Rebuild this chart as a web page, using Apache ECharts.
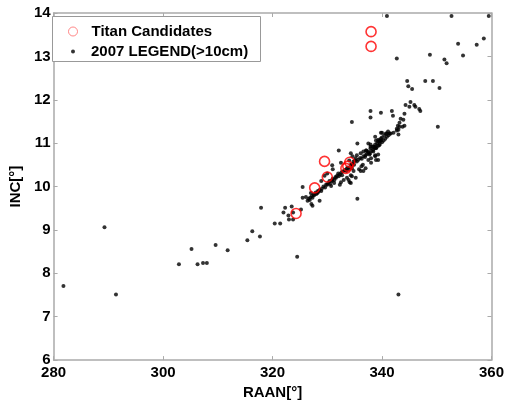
<!DOCTYPE html>
<html><head><meta charset="utf-8">
<script src="https://cdn.jsdelivr.net/npm/echarts@6/dist/echarts.min.js"></script>
<style>html,body{margin:0;padding:0;background:#fff}#c{width:507px;height:405px}</style>
</head><body><div id="c"></div>
<script>
const xTicks = [280, 300, 320, 340, 360];
const yTicks = [6, 7, 8, 9, 10, 11, 12, 13, 14];
const seriesNames = ['Titan Candidates', '2007 LEGEND(>10cm)'];

const titan = [
  [338.0, 13.57], [338.0, 13.23], [329.5, 10.58], [330.0, 10.22], [327.7, 9.97],
  [324.3, 9.38], [333.4, 10.42], [334.1, 10.56], [333.75, 10.47]
];

const debris = [
  [281.8, 7.71], [289.3, 9.06], [291.4, 7.51], [302.9, 8.21], [305.2, 8.56], [306.3, 8.21],
  [307.3, 8.24], [308.0, 8.24], [309.6, 8.65], [311.8, 8.53], [315.4, 8.76], [316.3, 8.97],
  [317.7, 8.85], [317.9, 9.51], [320.4, 9.15], [321.4, 9.15], [322.0, 9.40], [322.3, 9.51],
  [322.9, 9.33], [323.0, 9.24], [323.5, 9.54], [323.75, 9.40], [323.75, 9.24], [325.2, 9.47],
  [324.5, 8.38], [343.0, 7.51],
  [325.5, 9.99], [325.5, 9.74], [326.1, 9.76], [326.4, 9.67], [326.8, 9.69], [327.1, 9.60],
  [327.3, 9.56], [327.0, 9.85], [327.3, 9.74], [327.5, 9.81], [328.0, 9.83], [328.2, 9.85],
  [328.4, 9.88], [328.6, 9.67], [328.9, 9.90], [328.9, 10.13], [330.0, 10.04], [330.7, 10.01],
  [330.4, 10.13], [330.9, 10.15], [331.25, 10.08], [331.6, 10.20], [332.1, 10.24], [332.7, 10.26],
  [332.3, 10.04], [332.5, 10.10], [330.9, 10.49], [332.1, 10.83], [333.9, 10.15], [334.1, 10.10],
  [335.5, 9.72],
  [334.5, 10.49], [334.8, 10.58], [335.2, 10.65], [335.4, 10.72], [336.1, 10.77], [336.6, 10.81],
  [337.1, 10.83], [337.9, 10.88], [338.4, 10.92], [338.75, 10.97], [339.3, 11.04], [339.6, 11.06],
  [339.8, 11.11], [340.4, 11.18], [340.7, 11.22], [341.1, 11.27], [341.6, 11.22], [342.1, 11.24],
  [335.5, 10.99], [337.5, 10.99], [337.9, 10.92], [336.25, 10.47], [337.0, 10.42], [336.1, 10.36],
  [336.6, 10.36], [337.5, 10.61], [338.0, 10.65], [338.75, 10.70], [339.3, 10.74], [338.9, 10.61],
  [337.5, 10.81], [334.5, 10.42], [334.8, 10.36], [334.3, 10.26], [334.5, 11.49], [334.3, 10.77],
  [334.6, 10.70], [333.6, 10.42], [334.5, 10.24], [335.2, 10.20], [334.3, 10.08],
  [337.1, 10.83], [337.0, 10.72], [337.7, 10.74], [338.4, 10.81], [338.75, 10.72], [338.9, 10.88],
  [337.9, 11.59], [337.9, 11.74], [339.8, 11.70], [341.8, 11.74], [342.0, 11.63], [344.1, 11.68],
  [344.3, 11.88], [345.2, 11.95], [345.0, 11.84], [345.9, 11.88], [346.1, 11.84], [346.8, 11.79],
  [347.0, 11.74], [343.9, 11.54], [343.4, 11.56], [343.2, 11.47], [342.9, 11.40], [342.7, 11.33],
  [342.7, 11.29], [343.0, 11.31], [343.2, 11.38], [344.1, 11.40], [343.75, 11.38], [343.0, 11.20],
  [339.8, 11.24], [340.9, 11.22], [341.4, 11.22], [340.0, 11.13], [339.8, 11.06], [339.6, 11.04],
  [339.3, 11.08], [338.75, 11.15], [338.9, 11.06], [339.1, 10.99], [338.75, 10.92], [338.4, 10.92],
  [337.9, 10.97], [340.0, 11.24], [339.5, 10.95], [339.3, 10.61], [350.2, 11.38],
  [340.9, 13.93], [352.7, 13.93], [359.5, 13.93], [353.9, 13.29], [357.3, 13.27], [358.6, 13.41],
  [342.7, 12.95], [348.75, 13.04], [351.4, 12.93], [351.8, 12.84], [354.8, 13.02], [344.6, 12.43],
  [344.8, 12.31], [345.5, 12.25], [347.9, 12.43], [349.3, 12.43], [350.5, 12.27],
  [329.0, 9.95], [329.3, 10.0], [329.6, 9.98], [329.8, 10.05], [330.2, 10.08], [330.5, 10.06],
  [330.8, 10.12], [331.0, 10.18], [331.3, 10.15], [331.5, 10.22], [331.8, 10.25], [332.0, 10.3],
  [332.3, 10.28], [332.6, 10.33], [332.9, 10.35], [333.2, 10.38], [333.5, 10.36], [333.8, 10.44],
  [334.0, 10.4], [334.3, 10.5], [334.6, 10.52], [334.9, 10.5], [335.1, 10.6], [335.4, 10.58],
  [335.7, 10.62], [336.0, 10.66], [336.3, 10.64], [336.6, 10.7], [336.9, 10.68], [337.2, 10.75],
  [337.5, 10.78], [337.8, 10.76], [338.1, 10.82], [338.4, 10.85], [338.7, 10.88], [339.0, 10.9],
  [339.3, 10.94], [339.6, 10.98], [340.0, 11.02], [340.3, 11.06], [340.6, 11.1], [340.9, 11.15],
  [341.2, 11.18], [326.6, 9.72], [326.9, 9.75], [327.2, 9.78], [327.6, 9.80], [327.9, 9.86],
  [328.3, 9.9], [328.6, 9.92], [333.0, 10.15], [333.6, 10.2], [335.8, 10.4], [336.5, 10.5],
  [338.0, 10.55], [334.0, 10.6], [332.5, 10.55], [331.0, 10.4], [329.5, 10.25], [330.0, 10.3]
];

const FONT = 'Liberation Sans';
const axisCol = '#aaaaaa';
const chart = echarts.init(document.getElementById('c'), null, {renderer: 'canvas'});
const baseAxis = {
  axisLine: {show: true, onZero: false, lineStyle: {color: axisCol, width: 1.5}},
  axisTick: {show: true, inside: true, length: 4, lineStyle: {color: axisCol}},
  splitLine: {show: false}
};
chart.setOption({
  animation: false,
  backgroundColor: '#fff',
  grid: {left: 48, right: 11, top: 13, bottom: 41, containLabel: false},
  xAxis: [
    Object.assign({}, baseAxis, {
      type: 'value', min: xTicks[0], max: xTicks[xTicks.length - 1], interval: 20, position: 'bottom',
      name: 'RAAN[°]', nameLocation: 'middle', nameGap: 24,
      nameTextStyle: {fontFamily: FONT, fontWeight: 'bold', fontSize: 15, color: '#000'},
      axisLabel: {fontFamily: FONT, fontWeight: 'bold', fontSize: 15, color: '#000', margin: 5}
    }),
    Object.assign({}, baseAxis, {
      type: 'value', min: xTicks[0], max: xTicks[xTicks.length - 1], interval: 20, position: 'top',
      axisLabel: {show: false}
    })
  ],
  yAxis: [
    Object.assign({}, baseAxis, {
      type: 'value', min: yTicks[0], max: yTicks[yTicks.length - 1], interval: 1, position: 'left',
      name: 'INC[°]', nameLocation: 'middle', nameGap: 28, nameRotate: 90,
      nameTextStyle: {fontFamily: FONT, fontWeight: 'bold', fontSize: 15, color: '#000'},
      axisLabel: {fontFamily: FONT, fontWeight: 'bold', fontSize: 15, color: '#000', margin: 3}
    }),
    Object.assign({}, baseAxis, {
      type: 'value', min: yTicks[0], max: yTicks[yTicks.length - 1], interval: 1, position: 'right',
      axisLabel: {show: false}
    })
  ],
  legend: [
    {
      data: [{name: seriesNames[0], icon: 'circle', itemStyle: {color: 'transparent', borderColor: '#ff6a6a', borderWidth: 1}}],
      left: 68, top: 24, padding: 0, itemWidth: 9, itemHeight: 9,
      textStyle: {fontFamily: FONT, fontWeight: 'bold', fontSize: 15, color: '#000', padding: [0, 0, 0, 9]}
    },
    {
      data: [{name: seriesNames[1], icon: 'circle', itemStyle: {color: '#000'}}],
      left: 71, top: 44, padding: 0, itemWidth: 4, itemHeight: 4,
      textStyle: {fontFamily: FONT, fontWeight: 'bold', fontSize: 15, color: '#000', padding: [0, 0, 0, 11]}
    }
  ],
  graphic: [{
    type: 'rect', left: 52, top: 16, z: 3,
    shape: {width: 208, height: 45},
    style: {fill: '#fff', stroke: '#999', lineWidth: 1}
  }],
  series: [
    {
      name: seriesNames[1], type: 'scatter', data: debris, symbol: 'circle', symbolSize: 4,
      itemStyle: {color: '#000'}, z: 2
    },
    {
      name: seriesNames[0], type: 'scatter', data: titan, symbol: 'circle', symbolSize: 10,
      itemStyle: {color: 'transparent', borderColor: '#ff0000', borderWidth: 1.6}, z: 3
    }
  ]
});
</script></body></html>
